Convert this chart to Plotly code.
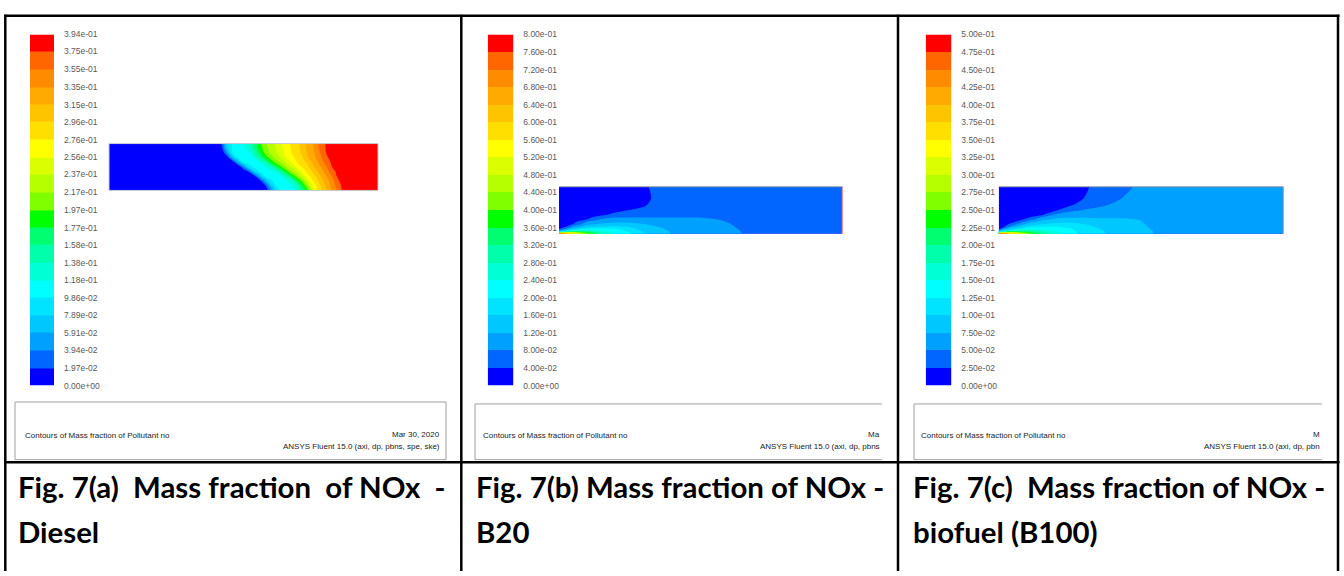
import numpy as np
import plotly.graph_objects as go

W, H = 1344, 576

# Fluent 20-band rainbow, lowest band first
BAND_COLOURS = [
    "#0000ff", "#0066ff", "#00a0ff", "#00c8ff", "#00e4ff",
    "#00ffff", "#00ffd4", "#00ffaa", "#00ff70", "#00ff00",
    "#80ff00", "#b6ff00", "#dcff00", "#ffff00", "#ffdf00",
    "#ffc400", "#ffaa00", "#ff8c00", "#ff6600", "#ff0000",
]
SCALE = [[k / 19, c] for k, c in enumerate(BAND_COLOURS)]

# ---------------- Fig. 7(a) Diesel ----------------
DIESEL_LABELS = ["3.94e-01", "3.75e-01", "3.55e-01", "3.35e-01", "3.15e-01",
                 "2.96e-01", "2.76e-01", "2.56e-01", "2.37e-01", "2.17e-01",
                 "1.97e-01", "1.77e-01", "1.58e-01", "1.38e-01", "1.18e-01",
                 "9.86e-02", "7.89e-02", "5.91e-02", "3.94e-02", "1.97e-02",
                 "0.00e+00"]
# axial stations (fraction of length) and radial stations (fraction of radius)
DIESEL_X = [0.0, 0.40, 0.42, 0.44, 0.46, 0.48, 0.50, 0.52, 0.54, 0.56, 0.58,
            0.60, 0.62, 0.64, 0.66, 0.68, 0.70, 0.72, 0.74, 0.76, 0.78, 0.80,
            0.82, 0.84, 0.86, 0.88, 1.0]
DIESEL_Y = [0.0, 0.1, 0.2, 0.3, 0.4, 0.5, 0.6, 0.7, 0.8, 0.9, 1.0]
# NO mass fraction in contour-level units, one row per radial station
DIESEL_LEVEL = [
    [0, 0, 0, 0, 0, 0, 0, 0, 0, 0, 0, 1.8, 4.05, 5.2, 5.4, 5.7, 6.2, 8.1, 9.8,
     12.7, 14.4, 15.5, 16.6, 17.7, 18.7, 20, 20],
    [0, 0, 0, 0, 0, 0, 0, 0, 0, 0, 0.8, 3.02, 5.03, 5.32, 5.61, 5.9, 7.11, 9.14,
     11.02, 13.38, 14.67, 15.78, 16.8, 17.89, 18.82, 20, 20],
    [0, 0, 0, 0, 0, 0, 0, 0, 0, 0.4, 2.6, 4.8, 5.3, 5.6, 5.9, 6.8, 8.8, 10.4,
     12.6, 14.1, 15.1, 16.1, 17.1, 18.2, 19.2, 20, 20],
    [0, 0, 0, 0, 0, 0, 0, 0, 0.6, 2.89, 5.03, 5.32, 5.62, 5.91, 7.2, 9.07,
     10.64, 12.27, 13.67, 14.64, 15.63, 16.59, 17.61, 18.54, 19.9, 20, 20],
    [0, 0, 0, 0, 0, 0, 0, 1.1, 3.6, 5.1, 5.4, 5.7, 6.05, 7.7, 9.5, 10.9, 12.1,
     13.4, 14.3, 15.2, 16.2, 17.1, 18.1, 18.9, 20, 20, 20],
    [0, 0, 0, 0, 0, 0, 1.88, 4.44, 5.22, 5.52, 5.82, 6.67, 8.45, 9.88, 11.15,
     12.18, 13.27, 14.14, 14.83, 15.83, 16.65, 17.61, 18.48, 19.6, 20, 20, 20],
    [0, 0, 0, 0, 0.3, 2.8, 5.05, 5.3, 5.6, 5.9, 7.3, 9.1, 10.3, 11.3, 12.2,
     13.2, 14.05, 14.6, 15.4, 16.3, 17.1, 18.1, 18.8, 20, 20, 20, 20],
    [0, 0, 0, 0.5, 3.33, 5.1, 5.4, 5.7, 6.02, 7.67, 9.25, 10.42, 11.33, 12.09,
     13.02, 13.71, 14.35, 14.94, 15.95, 16.66, 17.56, 18.4, 19.2, 20, 20, 20, 20],
    [0, 0, 0, 2.4, 5.05, 5.3, 5.6, 5.9, 7.2, 8.8, 10.2, 11.1, 11.8, 12.6, 13.3,
     14.05, 14.6, 15.2, 16.2, 16.8, 17.8, 18.6, 19.7, 20, 20, 20, 20],
    [0, 0, 0.8, 3.8, 5.15, 5.45, 5.76, 6.33, 7.92, 9.44, 10.55, 11.35, 12.05,
     12.83, 13.52, 14.14, 14.68, 15.42, 16.3, 16.97, 18.03, 18.68, 20, 20, 20,
     20, 20],
    [0, 0, 1.2, 4.3, 5.2, 5.5, 5.8, 6.7, 8.2, 9.7, 10.7, 11.5, 12.1, 12.9, 13.6,
     14.2, 14.7, 15.5, 16.4, 17.05, 18.1, 18.7, 20, 20, 20, 20, 20],
]

# ---------------- Fig. 7(b) B20 ----------------
B20_LABELS = ["8.00e-01", "7.60e-01", "7.20e-01", "6.80e-01", "6.40e-01",
              "6.00e-01", "5.60e-01", "5.20e-01", "4.80e-01", "4.40e-01",
              "4.00e-01", "3.60e-01", "3.20e-01", "2.80e-01", "2.40e-01",
              "2.00e-01", "1.60e-01", "1.20e-01", "8.00e-02", "4.00e-02",
              "0.00e+00"]
B20_X = [0.0, 0.02, 0.05, 0.1, 0.15, 0.2, 0.25, 0.3, 0.35, 0.4, 0.45, 0.5,
         0.55, 0.6, 0.65, 0.7, 1.0]
B20_Y = [0.0, 0.03, 0.06, 0.1, 0.15, 0.2, 0.25, 0.3, 0.35, 0.4, 0.5, 0.6,
         0.75, 1.0]
# radial profiles (contour-level units), one list per axial station
B20_LEVEL = [
    [20, 6.1, 2.5, 0.9, 0.5, 0.5, 0.5, 0.5, 0.5, 0.5, 0.5, 0.5, 0.5, 0.5],
    [18.5, 9.1, 4.1, 2.05, 0.8, 0.5, 0.5, 0.5, 0.5, 0.5, 0.5, 0.5, 0.5, 0.5],
    [15.5, 11, 6.05, 3.7, 2.25, 1.05, 0.7, 0.5, 0.5, 0.5, 0.5, 0.5, 0.5, 0.5],
    [11, 9.05, 6.75, 5.05, 3.6, 2.75, 2.1, 1.05, 0.7, 0.5, 0.5, 0.5, 0.5, 0.5],
    [7.8, 6.8, 6.05, 5.2, 4.05, 3.15, 2.65, 2.2, 1.55, 0.85, 0.5, 0.5, 0.5, 0.5],
    [5.95, 5.7, 5.4, 5.05, 4.15, 3.4, 2.85, 2.35, 1.95, 1.3, 0.7, 0.5, 0.5, 0.5],
    [5.2, 4.95, 4.7, 4.35, 3.9, 3.3, 2.85, 2.4, 1.97, 1.65, 1.02, 0.7, 0.55, 0.55],
    [4.2, 3.95, 3.8, 3.6, 3.35, 3.05, 2.7, 2.35, 1.98, 1.8, 1.3, 0.9, 0.5, 0.75],
    [3.5, 3.45, 3.35, 3.2, 2.98, 2.75, 2.5, 2.25, 1.98, 1.8, 1.6, 1.5, 1.5, 1.5],
    [2.95, 2.9, 2.85, 2.75, 2.6, 2.45, 2.3, 2.15, 1.98, 1.85, 1.65, 1.55, 1.5, 1.5],
    [2.8, 2.78, 2.75, 2.65, 2.55, 2.4, 2.25, 2.12, 1.98, 1.85, 1.65, 1.55, 1.5, 1.5],
    [2.7, 2.68, 2.65, 2.58, 2.48, 2.35, 2.22, 2.1, 1.98, 1.85, 1.65, 1.55, 1.5, 1.5],
    [2.55, 2.53, 2.5, 2.45, 2.35, 2.25, 2.12, 2.03, 1.92, 1.82, 1.65, 1.55, 1.5, 1.5],
    [2.3, 2.28, 2.25, 2.18, 2.1, 2.03, 1.97, 1.9, 1.82, 1.76, 1.65, 1.55, 1.5, 1.5],
    [1.97, 1.95, 1.93, 1.9, 1.86, 1.82, 1.78, 1.74, 1.7, 1.67, 1.6, 1.55, 1.5, 1.5],
    [1.85, 1.84, 1.83, 1.8, 1.77, 1.74, 1.71, 1.68, 1.65, 1.62, 1.58, 1.54, 1.5, 1.5],
    [1.6, 1.6, 1.6, 1.6, 1.6, 1.6, 1.6, 1.58, 1.56, 1.55, 1.52, 1.5, 1.5, 1.5],
]

# ---------------- Fig. 7(c) biofuel (B100) ----------------
B100_LABELS = ["5.00e-01", "4.75e-01", "4.50e-01", "4.25e-01", "4.00e-01",
               "3.75e-01", "3.50e-01", "3.25e-01", "3.00e-01", "2.75e-01",
               "2.50e-01", "2.25e-01", "2.00e-01", "1.75e-01", "1.50e-01",
               "1.25e-01", "1.00e-01", "7.50e-02", "5.00e-02", "2.50e-02",
               "0.00e+00"]
B100_X = [0.0, 0.02, 0.05, 0.1, 0.15, 0.2, 0.25, 0.3, 0.35, 0.4, 0.45, 0.5,
          0.55, 0.6, 0.65, 0.7, 1.0]
B100_Y = [0.0, 0.03, 0.06, 0.1, 0.15, 0.2, 0.25, 0.3, 0.35, 0.4, 0.5, 0.6,
          0.75, 1.0]
B100_LEVEL = [
    [20, 8.2, 2.65, 0.85, 0.5, 0.5, 0.5, 0.5, 0.5, 0.5, 0.5, 0.5, 0.5, 0.5],
    [18.9, 9.6, 4.65, 2.65, 0.98, 0.6, 0.5, 0.5, 0.5, 0.5, 0.5, 0.5, 0.5, 0.5],
    [16.05, 11, 6.6, 4.05, 2.75, 1.5, 0.8, 0.5, 0.5, 0.5, 0.5, 0.5, 0.5, 0.5],
    [12.05, 9.05, 7.5, 5.7, 4.25, 3.35, 2.4, 1.25, 0.8, 0.5, 0.5, 0.5, 0.5, 0.5],
    [8.4, 7.6, 6.6, 5.65, 4.85, 3.97, 3.35, 2.7, 1.98, 0.9, 0.5, 0.5, 0.5, 0.5],
    [6.4, 6.25, 5.9, 5.5, 4.98, 4.3, 3.75, 3.2, 2.8, 2.2, 0.85, 0.6, 0.5, 0.5],
    [5.45, 5.4, 5.3, 5.1, 4.75, 4.3, 3.85, 3.35, 2.9, 2.55, 1.75, 0.9, 0.55, 0.5],
    [4.6, 4.55, 4.5, 4.4, 4.25, 4.05, 3.7, 3.3, 2.9, 2.6, 2.05, 1.6, 1.02, 0.7],
    [4.2, 4.18, 4.15, 4.05, 3.9, 3.65, 3.4, 3.15, 2.9, 2.65, 2.25, 1.85, 1.6, 1.5],
    [3.8, 3.78, 3.75, 3.65, 3.5, 3.35, 3.2, 3.07, 2.95, 2.8, 2.45, 2.12, 1.75, 1.6],
    [3.55, 3.53, 3.5, 3.42, 3.32, 3.22, 3.13, 3.05, 2.95, 2.85, 2.6, 2.35, 2.15, 1.8],
    [3.25, 3.23, 3.2, 3.15, 3.1, 3.06, 3.02, 2.97, 2.9, 2.82, 2.65, 2.5, 2.35, 2.25],
    [2.97, 2.96, 2.95, 2.92, 2.88, 2.84, 2.8, 2.76, 2.72, 2.68, 2.6, 2.5, 2.4, 2.35],
    [2.8, 2.8, 2.78, 2.76, 2.74, 2.72, 2.7, 2.68, 2.66, 2.64, 2.6, 2.55, 2.5, 2.45],
    [2.7, 2.7, 2.7, 2.68, 2.66, 2.65, 2.64, 2.62, 2.6, 2.58, 2.55, 2.52, 2.5, 2.5],
    [2.62, 2.62, 2.62, 2.6, 2.6, 2.58, 2.57, 2.56, 2.55, 2.54, 2.52, 2.5, 2.5, 2.5],
    [2.5, 2.5, 2.5, 2.5, 2.5, 2.5, 2.5, 2.5, 2.5, 2.5, 2.5, 2.5, 2.5, 2.5],
]

# caption words; the first line of each cell is set justified
CAPTIONS = [
    (["Fig.", "7(a)", "Mass", "fraction", "of", "NOx", "-"], "Diesel"),
    (["Fig.", "7(b)", "Mass", "fraction", "of", "NOx", "-"], "B20"),
    (["Fig.", "7(c)", "Mass", "fraction", "of", "NOx", "-"], "biofuel (B100)"),
]
FOOTER_TITLE = "Contours of Mass fraction of Pollutant no"
FOOTER_RIGHT = [("Mar 30, 2020", "ANSYS Fluent 15.0 (axi, dp, pbns, spe, ske)"),
                ("Ma", "ANSYS Fluent 15.0 (axi, dp, pbns"),
                ("M", "ANSYS Fluent 15.0 (axi, dp, pbn")]

# ---------------- page geometry (pixels) ----------------
# extra_gaps: how many word gaps of the first caption line get widened
LAYOUT_PX = [
    dict(field=(109, 141, 378, 188.7), bar=(30, 30, 54, 387.3),
         box=(15, 404, 446, 462.7, True), title_x=23, right_x=441.5,
         cap_x=16, extra_gaps=3),
    dict(field=(559, 185, 842.3, 232.7), bar=(487.7, 30, 513.3, 387.3),
         box=(475, 406, 882, 462.7, False), title_x=481, right_x=882,
         cap_x=474, extra_gaps=0),
    dict(field=(998.7, 185, 1283.3, 232.7), bar=(925.7, 30, 951.3, 387.3),
         box=(914, 406, 1322, 462.7, False), title_x=919, right_x=1322,
         cap_x=911, extra_gaps=1),
]

NARROW = "Liberation Sans Narrow, Arial Narrow, Arial, sans-serif"
CAPTION_FONT = "Lato, Carlito, Calibri, sans-serif"
NB = "\u00a0"


def px(x):
    return x / W


def py(y):
    return 1 - y / H


def justified(words, extra):
    # widen a few of the word gaps with non-breaking spaces
    gaps = [" "] * (len(words) - 1)
    for j in range(extra):
        gaps[(1 + 2 * j) % len(gaps)] = NB + " "
    out = words[0]
    for g, w in zip(gaps, words[1:]):
        out += g + w
    return out


fig = go.Figure()
layout = {}
shapes = []
annotations = []

datasets = [
    (DIESEL_X, DIESEL_Y, np.array(DIESEL_LEVEL, dtype=float), DIESEL_LABELS),
    (B20_X, B20_Y, np.array(B20_LEVEL, dtype=float).T, B20_LABELS),
    (B100_X, B100_Y, np.array(B100_LEVEL, dtype=float).T, B100_LABELS),
]

for i, ((xs, ys, lev, labels), geo) in enumerate(zip(datasets, LAYOUT_PX)):
    levels = np.array([float(s) for s in labels[::-1]])
    step = levels[1]
    z = lev * step

    n_field = 2 * i + 1
    n_bar = 2 * i + 2
    xf = "x" if n_field == 1 else f"x{n_field}"
    yf = "y" if n_field == 1 else f"y{n_field}"
    xb, yb = f"x{n_bar}", f"y{n_bar}"

    fig.add_trace(go.Contour(
        x=xs, y=ys, z=z, xaxis=xf, yaxis=yf,
        colorscale=SCALE, autocontour=False, showscale=False,
        contours=dict(start=levels[1], end=levels[-2] + step * 0.1, size=step,
                      coloring="fill", showlines=False),
        line=dict(width=0, smoothing=0.8), hoverinfo="skip",
    ))

    # colour key: one cell per band
    fig.add_trace(go.Heatmap(
        x=[0, 1], y=levels, z=[[k] for k in range(20)],
        zmin=0, zmax=19, colorscale=SCALE, showscale=False,
        xaxis=xb, yaxis=yb, hoverinfo="skip",
    ))

    fx0, fy0, fx1, fy1 = geo["field"]
    bx0, by0, bx1, by1 = geo["bar"]
    key_f = "xaxis" if n_field == 1 else f"xaxis{n_field}"
    key_fy = "yaxis" if n_field == 1 else f"yaxis{n_field}"
    layout[key_f] = dict(domain=[px(fx0), px(fx1)], range=[0, 1], visible=False,
                         anchor=yf)
    layout[key_fy] = dict(domain=[py(fy1), py(fy0)], range=[0, 1], visible=False,
                          anchor=xf)
    layout[f"xaxis{n_bar}"] = dict(domain=[px(bx0), px(bx1)], range=[0, 1],
                                   visible=False, anchor=yb)
    layout[f"yaxis{n_bar}"] = dict(
        domain=[py(by1), py(by0)], range=[0, levels[-1]], anchor=xb,
        side="right", tickmode="array", tickvals=levels, ticktext=labels[::-1],
        ticks="", showgrid=False, zeroline=False, showline=False,
        ticklabelstandoff=9,
        tickfont=dict(family=NARROW, size=8.5, color="#5a5a5a"),
    )

    # outline of the computational domain
    if i == 0:
        shapes.append(dict(type="rect", xref=f"{xf} domain", yref=f"{yf} domain",
                           x0=0, x1=1, y0=0, y1=1,
                           line=dict(color="#c9c9d8", width=1)))
    else:
        shapes.append(dict(type="line", xref=f"{xf} domain", yref=f"{yf} domain",
                           x0=0, x1=1, y0=1, y1=1,
                           line=dict(color="#8a96a6", width=1)))
        shapes.append(dict(type="line", xref=f"{xf} domain", yref=f"{yf} domain",
                           x0=1, x1=1, y0=0, y1=1,
                           line=dict(color="#ff7a7a", width=1)))

    # footer box of the solver window
    x0, y0, x1, y1, closed = geo["box"]
    grey = dict(color="#a0a0a0", width=1)
    shapes.append(dict(type="line", xref="paper", yref="paper",
                       x0=px(x0), x1=px(x1), y0=py(y0), y1=py(y0), line=grey))
    shapes.append(dict(type="line", xref="paper", yref="paper",
                       x0=px(x0), x1=px(x1), y0=py(y1), y1=py(y1), line=grey))
    shapes.append(dict(type="line", xref="paper", yref="paper",
                       x0=px(x0), x1=px(x0), y0=py(y0), y1=py(y1), line=grey))
    if closed:
        shapes.append(dict(type="line", xref="paper", yref="paper",
                           x0=px(x1), x1=px(x1), y0=py(y0), y1=py(y1), line=grey))

    small = dict(family=NARROW, size=8, color="#222222")
    annotations.append(dict(text=FOOTER_TITLE, x=px(geo["title_x"]), y=py(438.5),
                            xref="paper", yref="paper", xanchor="left",
                            yanchor="middle", showarrow=False, font=small))
    date_txt, solver_txt = FOOTER_RIGHT[i]
    annotations.append(dict(text=date_txt, x=px(geo["right_x"]), y=py(437.5),
                            xref="paper", yref="paper", xanchor="right",
                            yanchor="middle", showarrow=False, font=small))
    annotations.append(dict(text=solver_txt, x=px(geo["right_x"]), y=py(449),
                            xref="paper", yref="paper", xanchor="right",
                            yanchor="middle", showarrow=False, font=small))

    words, line2 = CAPTIONS[i]
    cap_font = dict(family=CAPTION_FONT, size=29.4, color="#000000", weight=700)
    annotations.append(dict(text=justified(words, geo["extra_gaps"]),
                            x=px(geo["cap_x"]), y=py(490),
                            xref="paper", yref="paper", xanchor="left",
                            yanchor="middle", showarrow=False, font=cap_font))
    annotations.append(dict(text=line2, x=px(geo["cap_x"]), y=py(536),
                            xref="paper", yref="paper", xanchor="left",
                            yanchor="middle", showarrow=False, font=cap_font))

# table rules
rule = dict(color="#000000", width=2.5)
for x in (5.3, 461.3, 898, 1338):
    shapes.append(dict(type="line", xref="paper", yref="paper",
                       x0=px(x), x1=px(x), y0=py(10), y1=py(576), line=rule))
for y in (11, 465.3):
    shapes.append(dict(type="line", xref="paper", yref="paper",
                       x0=px(4), x1=px(1339.5), y0=py(y), y1=py(y), line=rule))

fig.update_layout(
    width=W, height=H, margin=dict(l=0, r=0, t=0, b=0),
    paper_bgcolor="white", plot_bgcolor="white", showlegend=False,
    shapes=shapes, annotations=annotations, **layout,
)

fig.write_html("out.html")
